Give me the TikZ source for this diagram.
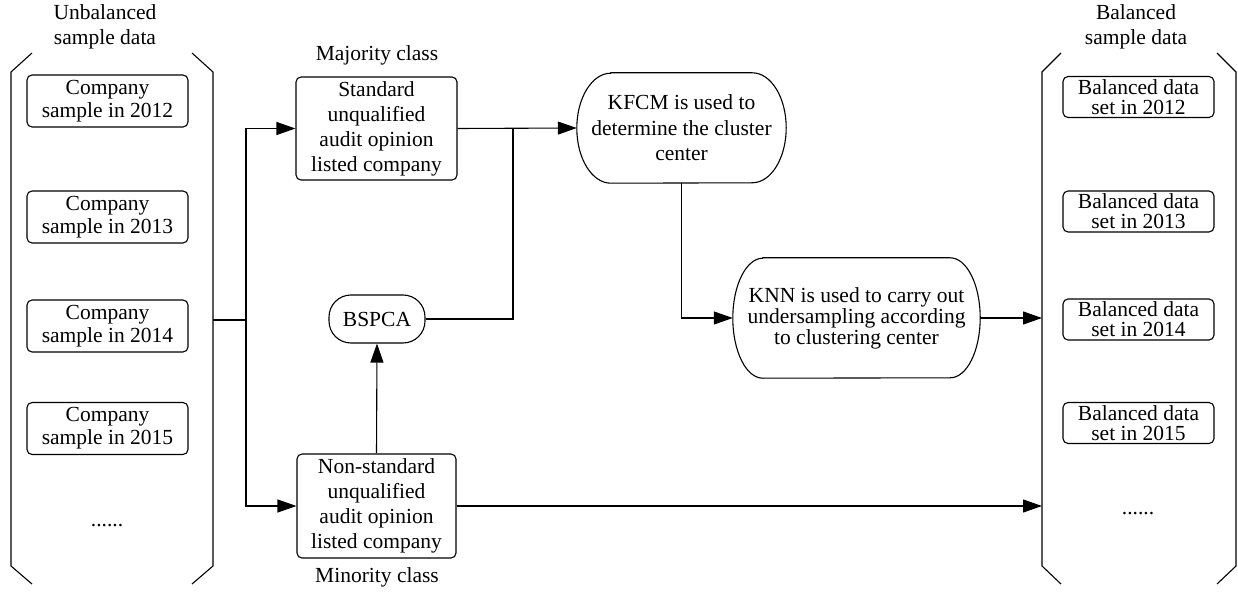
\documentclass[tikz,border=0pt]{standalone}
\usepackage{fontspec}
\setmainfont{Liberation Serif}
\usetikzlibrary{arrows.meta}
\tikzset{
  ln/.style={line width=1.1pt, draw=black},
  arr/.style={ln, -{Triangle[length=19pt,width=13pt]}},
  txt/.style={font=\fontsize{21.5}{24.5}\selectfont, align=center, inner sep=0pt},
  cbox/.style={draw, line width=1.1pt, rounded corners=5pt, align=center, inner sep=0pt,
    minimum width=161pt, minimum height=52pt, font=\fontsize{21.5}{23}\selectfont},
  bbox/.style={draw, line width=1.1pt, rounded corners=5pt, align=center, inner sep=0pt,
    minimum width=151pt, minimum height=41pt, font=\fontsize{21.5}{20}\selectfont},
  cls/.style={draw, line width=1.1pt, rounded corners=5pt, align=center, inner sep=0pt,
    minimum width=161pt, minimum height=103pt, font=\fontsize{21.5}{25}\selectfont},
  proc/.style={align=center, inner sep=0pt}
}
\begin{document}
\begin{tikzpicture}[x=1pt,y=-1pt]
\useasboundingbox (0,0) rectangle (1238,593);

% left bracket
\draw[ln] (32,53) -- (11,72) -- (11,566) -- (32,584);
\draw[ln] (192,53) -- (213,72) -- (213,566) -- (192,584);
% right bracket
\draw[ln] (1061,53) -- (1042,72) -- (1042,566) -- (1061,584);
\draw[ln] (1217,53) -- (1236,72) -- (1236,566) -- (1217,584);

\node[txt] (lt) at (105,27) {Unbalanced\\sample data};
\node[txt] (rt) at (1136,27) {Balanced\\sample data};

\node[cbox] (c12) at (107.5,101) {Company\\sample in 2012};
\node[cbox] (c13) at (107.5,217) {Company\\sample in 2013};
\node[cbox] (c14) at (107.5,326) {Company\\sample in 2014};
\node[cbox] (c15) at (107.5,428.5) {Company\\sample in 2015};
\node[txt] (ld) at (107,526) {......};

\node[bbox] (b12) at (1138.5,97) {Balanced data\\set in 2012};
\node[bbox] (b13) at (1138.5,211.5) {Balanced data\\set in 2013};
\node[bbox] (b14) at (1138.5,319.5) {Balanced data\\set in 2014};
\node[bbox] (b15) at (1138.5,423) {Balanced data\\set in 2015};
\node[txt] (rd) at (1138,514) {......};

\node[cls] (std) at (376.5,128.5) {Standard\\unqualified\\audit opinion\\listed company};
\node[cls, minimum width=159pt, minimum height=104pt] (nstd) at (376.5,506) {Non-standard\\unqualified\\audit opinion\\listed company};
\node[txt] (maj) at (377,55) {Majority class};
\node[txt] (mino) at (377,577) {Minority class};

\node[draw, line width=1.1pt, align=center, inner sep=0pt, rounded corners=22pt, minimum width=96pt, minimum height=48pt, font=\fontsize{21.5}{24}\selectfont] (bsp) at (377,319) {BSPCA};

\node[proc, minimum width=209pt, minimum height=110pt, font=\fontsize{21.5}{25.5}\selectfont] (kfcm) at (681.5,128) {KFCM is used to\\determine the cluster\\center};
\draw[ln] ([xshift=34pt]kfcm.north west) -- ([xshift=-34pt]kfcm.north east)
  arc[start angle=90, end angle=-90, x radius=34pt, y radius=55pt]
  -- ([xshift=34pt]kfcm.south west)
  arc[start angle=270, end angle=90, x radius=34pt, y radius=55pt] -- cycle;

\node[proc, minimum width=247pt, minimum height=120pt, font=\fontsize{21.5}{21}\selectfont] (knn) at (856.5,318) {KNN is used to carry out\\undersampling according\\to clustering center};
\draw[ln] ([xshift=30pt]knn.north west) -- ([xshift=-30pt]knn.north east)
  arc[start angle=90, end angle=-90, x radius=30pt, y radius=60pt]
  -- ([xshift=30pt]knn.south west)
  arc[start angle=270, end angle=90, x radius=30pt, y radius=60pt] -- cycle;

\coordinate (lbE) at (213,320);
\coordinate (L) at (246,320);
\coordinate (J) at (513,128.5);
\coordinate (rb1) at (1042,318);
\coordinate (rb2) at (1042,506);

\draw[ln] (lbE) -- (L);
\draw[arr] (L) |- (std.west);
\draw[arr] (L) |- (nstd.west);
\draw[arr] (std.east) -- (kfcm.west);
\draw[ln] (bsp.east) -| (J);
\draw[arr] (nstd.north) -- (bsp.south);
\draw[arr] (kfcm.south) |- (knn.west);
\draw[arr] (knn.east) -- (rb1);
\draw[arr] (nstd.east) -- (rb2);
\end{tikzpicture}
\end{document}
